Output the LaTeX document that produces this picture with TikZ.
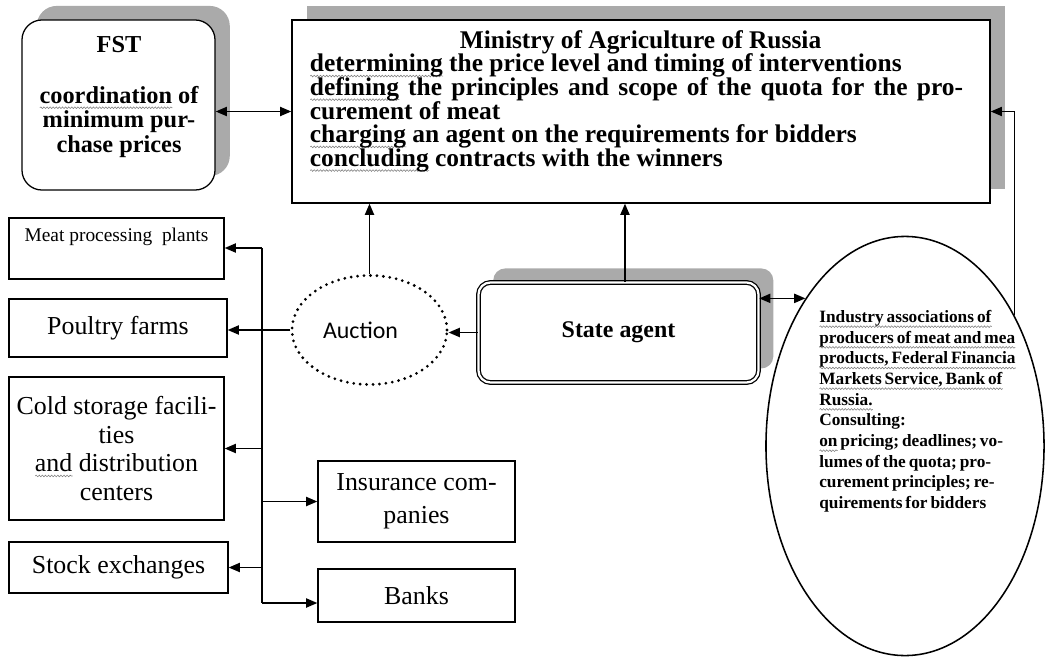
\documentclass[tikz,border=0pt]{standalone}
\usepackage{fontspec}
\setmainfont{Liberation Serif}
\newfontfamily\auctionfont{Carlito}
\usetikzlibrary{arrows.meta,shapes.geometric,shadows,decorations.pathmorphing}
\definecolor{shadowgray}{RGB}{170,170,170}
\newlength\spelllen
\newcommand\spellwave[1]{\settowidth\spelllen{#1}\rlap{\tikz[baseline=0pt]\draw[gray,line width=0.4pt,decorate,decoration={snake,amplitude=0.6pt,segment length=2.2pt}] (0pt,-3pt) -- (\spelllen,-3pt);}#1}

\begin{document}
\begin{tikzpicture}[x=0.025cm,y=-0.025cm,
  >={Triangle[length=8pt,width=6.5pt]},
  box/.style={draw,line width=0.9pt,inner sep=1pt,align=center,font=\fontsize{18.4}{20.3}\selectfont},
  grayshadow/.style={drop shadow={shadow xshift=10.5pt,shadow yshift=10pt,fill=shadowgray,opacity=1}},
  link/.style={line width=1.2pt}]
\useasboundingbox (0,0) rectangle (1045,657);

% top row
\node[box,grayshadow,fill=white,rounded corners=0.5cm,minimum width=4.825cm,minimum height=4.25cm] (fst) at (118.5,105) {};
\node[align=center,font=\bfseries\fontsize{17.3}{17.4}\selectfont\lineskiplimit-10pt] (fsttext) at (119,97)
  {FST\\[18.9pt]\spellwave{coordination} of\\minimum pur-\\chase prices};

\node[box,grayshadow,fill=white,minimum width=17.45cm,minimum height=4.575cm] (min) at (641,111.5) {};
\node[text width=16.325cm,align=justify,inner sep=0pt,anchor=north,
  font=\bfseries\fontsize{18.1}{16.8}\selectfont\lineskiplimit-10pt] (mintext) at (636.5,30)
  {\makebox[\linewidth]{\hspace*{0.2cm}Ministry of Agriculture of Russia}\\
   \spellwave{determining} the price level and timing of interventions\\
   \spellwave{defining} the principles and scope of the quota for the pro-\linebreak
   curement of meat\\
   \spellwave{charging} an agent on the requirements for bidders\\
   \spellwave{concluding} contracts with the winners};

% left column
\node[box,minimum width=5.375cm,minimum height=1.525cm,font=\fontsize{13.8}{19.2}\selectfont] (meat) at (116.5,248.5) {Meat processing~ plants\\ \mbox{}};
\node[box,minimum width=5.45cm,minimum height=1.45cm] (poultry) at (118,328) {Poultry farms};
\node[box,minimum width=5.375cm,minimum height=3.575cm,font=\fontsize{18.4}{20.3}\selectfont\lineskiplimit-10pt] (cold) at (116.5,448.5) {Cold storage facili-\\ties\\\spellwave{and} distribution\\centers};
\node[box,minimum width=5.475cm,minimum height=1.275cm] (stock) at (118.5,567.5) {Stock exchanges};

\node[box,minimum width=4.925cm,minimum height=2.025cm,font=\fontsize{18.4}{23.5}\selectfont] (ins) at (416.5,501.5) {Insurance com-\\panies};
\node[box,minimum width=4.925cm,minimum height=1.325cm] (banks) at (416.5,595.5) {Banks};

% middle row
\node[ellipse,draw,line width=2.2pt,line cap=round,dash pattern=on 0pt off 4.6pt,minimum width=3.875cm,minimum height=2.725cm,inner sep=0pt,font=\auctionfont\fontsize{17}{20}\selectfont] (auc) at (369.5,330) {Auction\hspace*{0.45cm}};
\node[grayshadow,draw,double,double distance=1.6pt,line width=0.9pt,rounded corners=0.3cm,fill=white,minimum width=7cm,minimum height=2.5cm,font=\bfseries\fontsize{17}{20}\selectfont] (agent) at (618.5,332.5) {State agent};

\node[ellipse,draw,line width=1.1pt,minimum width=6.95cm,minimum height=10.475cm,inner sep=0pt] (ell) at (905,446) {};
\node[anchor=north west,inner sep=0pt,align=left,
  font=\bfseries\fontsize{12.3}{14.7}\selectfont\lineskiplimit-10pt\spaceskip0.17em plus0.05em\relax] (elltext) at (819,310)
  {\spellwave{Industry associations of}\\
   \spellwave{producers of meat and mea}\\
   \spellwave{products, Federal Financia}\\
   \spellwave{Markets Service, Bank of}\\
   \spellwave{Russia.}\\
   Consulting:\\
   \spellwave{on} pricing; deadlines; vo-\\
   lumes of the quota; pro-\\
   curement principles; re-\\
   quirements for bidders};

% connectors
\draw[link,<->] (min.west -| fst.east) -- (min.west);
\draw[link,->] (auc.north) -- (auc.north |- min.south);
\draw[link,->] ([xshift=4.6pt]agent.north) -- ([xshift=4.6pt]agent.north |- min.south);
\draw[link,->] (agent.west) -- (agent.west -| auc.east);
\draw[link,->] (auc.west) -- (auc.west -| poultry.east);
\draw[link,<->] (ell.124 -| agent.east) -- (ell.124);
\draw[link,->] (ell.50) |- (min.east);

\coordinate (bus) at (262,248);
\coordinate (busend) at (262,603);
\draw[link] (bus) -- (busend);
\draw[link,->] (bus) -- (bus -| meat.east);
\draw[link,->] (cold.east -| bus) -- (cold.east);
\draw[link,->] (stock.east -| bus) -- (stock.east);
\draw[link,->] (ins.west -| bus) -- (ins.west);
\draw[link,->] (busend) -- (busend -| banks.west);
\end{tikzpicture}
\end{document}
